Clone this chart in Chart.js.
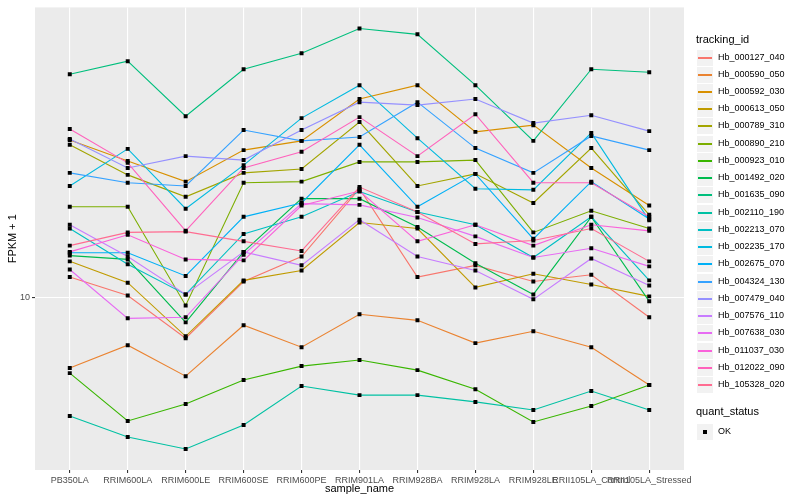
<!DOCTYPE html>
<html>
<head>
<meta charset="utf-8">
<script src="https://cdn.jsdelivr.net/npm/chart.js@4.4.0/dist/chart.umd.min.js"></script>
<style>
  body { margin: 0; background: #fff; font-family: "Liberation Sans", Arial, sans-serif; }
  #wrap { position: relative; width: 800px; height: 500px; }
  #legend { position: absolute; left: 0; top: 0; width: 800px; height: 500px; pointer-events: none; }
  .ltitle { position: absolute; left: 696px; font-size: 11px; color: #000; line-height: 13px; }
  .lkey { position: absolute; left: 696px; width: 16px; height: 16px; background: #F2F2F2; border: 1px solid #fff; box-sizing: content-box; }
  .lkey span { display: block; position: absolute; left: 1px; width: 14px; top: 7px; height: 2px; }
  .lkey b { position: absolute; left: 6px; top: 6px; width: 4px; height: 4px; background: #000; }
  .llab { position: absolute; left: 718px; font-size: 9px; color: #000; line-height: 11px; }
</style>
</head>
<body>
<div id="wrap">
  <canvas id="chart" width="800" height="500"></canvas>
  <div id="legend"></div>
</div>
<script>
const sampleNames = ["PB350LA", "RRIM600LA", "RRIM600LE", "RRIM600SE", "RRIM600PE", "RRIM901LA",
  "RRIM928BA", "RRIM928LA", "RRIM928LE", "RRII105LA_Control", "RRII105LA_Stressed"];

const trackingIds = ["Hb_000127_040", "Hb_000590_050", "Hb_000592_030", "Hb_000613_050", "Hb_000789_310",
  "Hb_000890_210", "Hb_000923_010", "Hb_001492_020", "Hb_001635_090", "Hb_002110_190",
  "Hb_002213_070", "Hb_002235_170", "Hb_002675_070", "Hb_004324_130", "Hb_007479_040",
  "Hb_007576_110", "Hb_007638_030", "Hb_011037_030", "Hb_012022_090", "Hb_105328_020"];

// ggplot hue palette, 20 levels
const lineColours = ["#F8766D", "#EA8331", "#D89000", "#C09B00", "#A3A500", "#7CAE00", "#39B600",
  "#00BB4E", "#00BF7D", "#00C1A3", "#00BFC4", "#00BAE0", "#00B0F6", "#35A2FF", "#9590FF",
  "#C77CFF", "#E76BF3", "#FA62DB", "#FF62BC", "#FF6C91"];

// FPKM + 1, one value per sample
const hb_000127_040 = [11.7, 10.15, 7.30, 11.3, 13.7, 23.1, 11.7, 12.8, 11.3, 11.9, 8.58];
const hb_000590_050 = [5.80, 6.92, 5.45, 8.07, 6.81, 8.78, 8.38, 7.03, 7.70, 6.81, 5.09];
const hb_000592_030 = [33.6, 28.6, 24.4, 31.1, 33.4, 46.1, 51.3, 35.8, 37.7, 27.1, 20.3];
const hb_000613_050 = [13.2, 11.2, 7.41, 11.4, 12.3, 17.8, 17.0, 10.8, 12.0, 11.05, 10.08];
const hb_000789_310 = [32.4, 25.7, 21.7, 26.1, 26.9, 38.6, 23.6, 25.9, 20.7, 31.6, 18.9];
const hb_000890_210 = [20.1, 20.1, 9.40, 24.2, 24.4, 28.4, 28.4, 28.8, 16.5, 19.5, 17.0];
const hb_000923_010 = [5.58, 3.86, 4.40, 5.29, 5.89, 6.17, 5.71, 4.93, 3.83, 4.33, 5.09];
const hb_001492_020 = [13.8, 13.4, 8.25, 14.2, 21.4, 21.4, 17.2, 13.0, 10.23, 18.6, 9.70];
const hb_001635_090 = [55.8, 61.7, 40.4, 58.0, 65.6, 79.4, 75.9, 51.3, 33.4, 58.0, 56.7];
const hb_002110_190 = [4.01, 3.41, 3.11, 3.74, 5.05, 4.71, 4.71, 4.47, 4.20, 4.86, 4.20];
const hb_002213_070 = [17.0, 12.9, 10.23, 16.3, 18.6, 22.6, 19.3, 17.5, 13.6, 18.6, 11.4];
const hb_002235_170 = [23.6, 31.4, 19.8, 27.7, 39.8, 51.3, 34.1, 23.1, 22.9, 35.5, 18.1];
const hb_002675_070 = [14.1, 14.1, 11.8, 18.6, 20.7, 32.4, 20.1, 25.9, 15.7, 24.4, 18.3];
const hb_004324_130 = [26.1, 24.2, 23.6, 36.3, 33.4, 34.4, 45.0, 31.6, 26.1, 34.7, 31.1];
const hb_007479_040 = [33.9, 27.1, 29.7, 28.8, 36.3, 45.0, 44.0, 46.1, 38.3, 40.7, 36.0];
const hb_007576_110 = [17.5, 13.7, 10.23, 14.2, 12.8, 18.2, 13.7, 12.3, 9.85, 13.5, 10.96];
const hb_007638_030 = [12.4, 8.51, 8.58, 13.9, 20.6, 20.4, 18.5, 16.0, 13.6, 14.6, 12.7];
const hb_011037_030 = [14.2, 16.2, 13.4, 13.3, 20.3, 22.7, 15.4, 17.5, 14.9, 17.5, 16.7];
const hb_012022_090 = [36.6, 28.2, 16.7, 27.1, 30.7, 40.1, 29.7, 41.0, 24.2, 24.2, 18.6];
const hb_105328_020 = [14.9, 16.5, 16.6, 15.4, 14.3, 23.4, 19.3, 15.1, 15.5, 17.0, 13.2];

const seriesValues = [hb_000127_040, hb_000590_050, hb_000592_030, hb_000613_050, hb_000789_310,
  hb_000890_210, hb_000923_010, hb_001492_020, hb_001635_090, hb_002110_190,
  hb_002213_070, hb_002235_170, hb_002675_070, hb_004324_130, hb_007479_040,
  hb_007576_110, hb_007638_030, hb_011037_030, hb_012022_090, hb_105328_020];

const yTicks = [10];

const FONT = "'Liberation Sans', Arial, sans-serif";

const toXY = (vals) => vals.map((v, i) => ({ x: i, y: v }));

const lineSets = seriesValues.map((vals, k) => ({
  label: trackingIds[k],
  data: toXY(vals),
  borderColor: lineColours[k],
  borderWidth: 1.1,
  pointRadius: 0,
  tension: 0,
  fill: false,
  order: 20 - k
}));

const pointSet = {
  label: "OK",
  data: seriesValues.flatMap(toXY),
  showLine: false,
  pointStyle: "rect",
  pointRadius: 2.8,
  pointBackgroundColor: "#000",
  pointBorderWidth: 0,
  order: 0
};

const panelBg = {
  id: "panelBg",
  beforeDraw(chart) {
    const a = chart.chartArea;
    const ctx = chart.ctx;
    ctx.save();
    ctx.fillStyle = "#EBEBEB";
    ctx.fillRect(a.left, a.top, a.right - a.left, a.bottom - a.top);
    ctx.restore();
  }
};

new Chart(document.getElementById("chart"), {
  type: "line",
  data: { datasets: [pointSet, ...lineSets] },
  plugins: [panelBg],
  options: {
    responsive: false,
    animation: false,
    layout: { padding: { top: 5, right: 116, left: 0, bottom: 0 } },
    plugins: { legend: { display: false }, tooltip: { enabled: false } },
    scales: {
      x: {
        type: "linear",
        min: -0.6,
        max: 10.6,
        afterBuildTicks: (s) => { s.ticks = sampleNames.map((_, i) => ({ value: i })); },
        afterFit: (s) => { s.height = 30; },
        ticks: {
          callback: (v) => sampleNames[v],
          autoSkip: false, maxRotation: 0, minRotation: 0,
          color: "#4D4D4D", font: { size: 9, family: FONT }, padding: 2
        },
        grid: { color: "#FFFFFF", lineWidth: 1.1, tickColor: "#333333", tickLength: 3 },
        border: { display: false },
        title: { display: true, text: "sample_name", color: "#000", font: { size: 11, family: FONT }, padding: { top: 0, bottom: 4 } }
      },
      y: {
        type: "logarithmic",
        min: 2.645,
        max: 93.4,
        afterBuildTicks: (s) => { s.ticks = yTicks.map(v => ({ value: v })); },
        afterFit: (s) => { s.width = 35; },
        ticks: { callback: (v) => String(v), color: "#4D4D4D", font: { size: 9, family: FONT }, padding: 2 },
        grid: { color: "#FFFFFF", lineWidth: 1.1, tickColor: "#333333", tickLength: 3 },
        border: { display: false },
        title: { display: true, text: "FPKM + 1", color: "#000", font: { size: 11, family: FONT }, padding: { top: 6, bottom: 0 } }
      }
    }
  }
});

// ggplot-style legend on the right
const legend = document.getElementById("legend");
function addEl(cls, top, html) {
  const d = document.createElement("div");
  d.className = cls;
  d.style.top = Math.round(top) + "px";
  d.innerHTML = html;
  legend.appendChild(d);
  return d;
}
addEl("ltitle", 33, "tracking_id");
trackingIds.forEach((id, i) => {
  const cy = 57 + 17.24 * i;
  addEl("lkey", cy - 8.5, '<span style="background:' + lineColours[i] + '"></span>');
  addEl("llab", cy - 5.5, id);
});
addEl("ltitle", 405, "quant_status");
addEl("lkey", 431 - 8.5, "<b></b>");
addEl("llab", 431 - 5.5, "OK");
</script>
</body>
</html>
